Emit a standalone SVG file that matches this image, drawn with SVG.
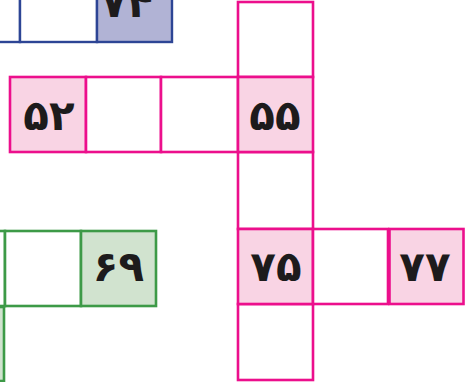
<svg xmlns="http://www.w3.org/2000/svg" width="471" height="382" viewBox="0 0 471 382">
<style>
.pk{fill:#ffffff;stroke:#ec0f8c;stroke-width:2.6}
.pkf{fill:#f9d4e4;stroke:#ec0f8c;stroke-width:2.6}
.bl{fill:#ffffff;stroke:#2d4595;stroke-width:2.4}
.blf{fill:#b1b3d5;stroke:#2d4595;stroke-width:2.4}
.gr{fill:#ffffff;stroke:#3d9a47;stroke-width:2.6}
.grf{fill:#d1e3cf;stroke:#3d9a47;stroke-width:2.6}
.t{font-family:"DejaVu Sans",sans-serif;font-weight:bold;font-size:42px;fill:#1d1b1c;text-anchor:middle}
</style>
<rect width="471" height="382" fill="#ffffff"/>
<g id="blue-row">
  <rect class="bl" x="-56" y="-34" width="76" height="76"/>
  <rect class="bl" x="20" y="-34" width="77" height="76"/>
  <g id="cell-74"><rect class="blf" x="97" y="-34" width="75" height="76"/><text class="t" x="127" y="17">۷۴</text></g>
</g>
<g id="green-row">
  <rect class="gr" x="-71" y="231" width="76" height="75"/>
  <rect class="gr" x="5" y="231" width="76" height="75"/>
  <g id="cell-69"><rect class="grf" x="81" y="231" width="75" height="75"/><text class="t" x="118.5" y="281">۶۹</text></g>
  <rect class="grf" x="-72" y="307" width="76" height="74"/>
</g>
<g id="pink-column">
  <rect class="pk" x="238" y="2" width="75" height="75"/>
  <rect class="pk" x="238" y="152" width="75" height="77"/>
  <rect class="pk" x="238" y="304" width="75" height="76"/>
</g>
<g id="pink-row">
  <g id="cell-52"><rect class="pkf" x="10" y="77" width="76" height="75"/><text class="t" x="49" y="130">۵۲</text></g>
  <rect class="pk" x="86" y="77" width="75" height="75"/>
  <rect class="pk" x="161" y="77" width="77" height="75"/>
  <g id="cell-55"><rect class="pkf" x="238" y="77" width="75" height="75"/><text class="t" x="275" y="130">۵۵</text></g>
</g>
<g id="pink-row-2">
  <g id="cell-75"><rect class="pkf" x="238" y="229" width="75" height="75"/><text class="t" x="276" y="281">۷۵</text></g>
  <rect class="pk" x="313" y="229" width="75" height="75"/>
  <g id="cell-77"><rect class="pkf" x="389.5" y="229" width="74" height="75"/><text class="t" x="425" y="281">۷۷</text></g>
</g>
<g id="connectors"/>
</svg>
